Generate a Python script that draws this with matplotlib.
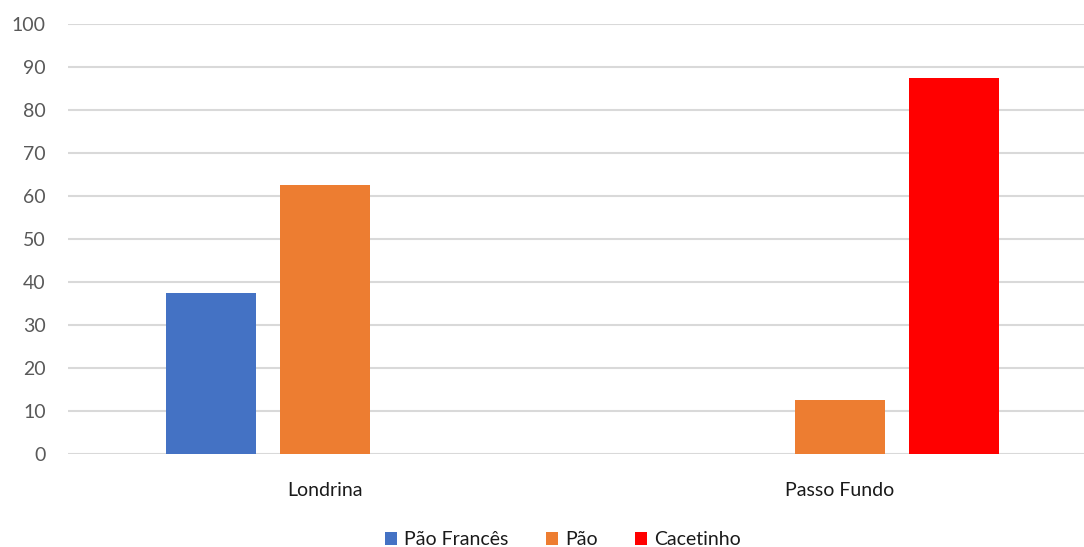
import matplotlib.pyplot as plt
import numpy as np

categories = ['Londrina', 'Passo Fundo']
series_names = ['Pão Francês', 'Pão', 'Cacetinho']
pao_frances = [37.5, 0]
pao = [62.5, 12.5]
cacetinho = [0, 87.5]
yticks = list(range(0, 101, 10))

colors = ['#4472C4', '#ED7D31', '#FF0000']
plt.rcParams['font.family'] = ['Lato', 'DejaVu Sans']

fig = plt.figure(figsize=(10.84, 5.47), dpi=100)
ax = fig.add_axes([0.0627, 0.17, 0.9373, 0.786])

x = np.arange(len(categories))
width = 0.175
offset = 0.221
for i, (name, vals) in enumerate(zip(series_names, [pao_frances, pao, cacetinho])):
    ax.bar(x + (i - 1) * offset, vals, width, color=colors[i], label=name, zorder=3)

ax.set_ylim(0, 100)
ax.set_xlim(-0.499, 1.474)
ax.set_yticks(yticks)
ax.set_xticks(x)
ax.set_xticklabels(categories, fontsize=14, color='#1a1a1a')
ax.tick_params(axis='y', labelsize=14, labelcolor='#595959', length=0, pad=16)
ax.tick_params(axis='x', length=0, pad=20)
ax.grid(axis='y', color='#D9D9D9', linewidth=1.5, zorder=0)
for s in ax.spines.values():
    s.set_visible(False)

ax.legend(loc='center', bbox_to_anchor=(0.487, -0.2), ncol=3, frameon=False,
          fontsize=14, handlelength=0.65, handleheight=0.65, handletextpad=0.35, columnspacing=1.9,
          labelcolor='#1a1a1a')

fig.savefig('out.png', dpi=100)
